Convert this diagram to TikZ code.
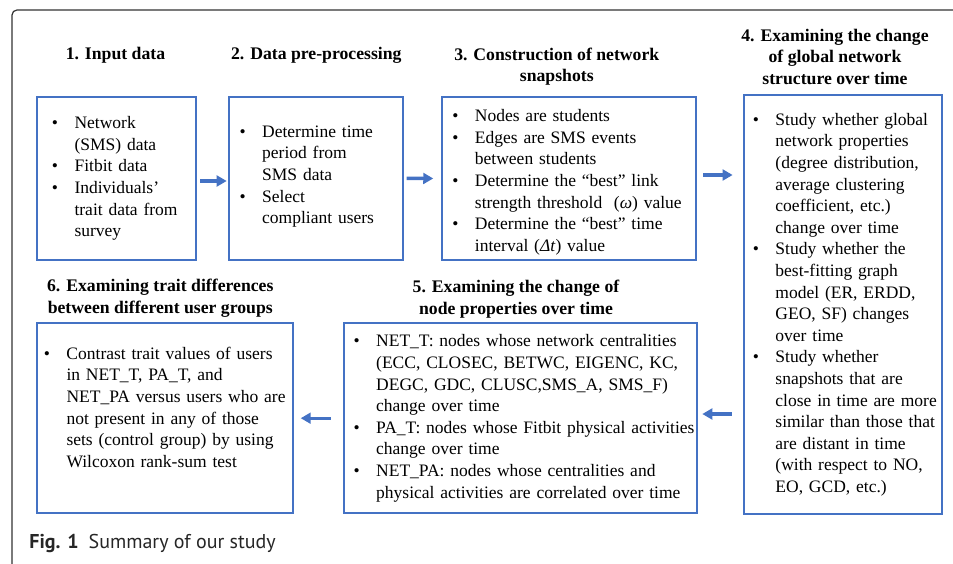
\documentclass[tikz,border=0pt]{standalone}
\usepackage{fontspec}
\setmainfont{Liberation Serif}
\newfontfamily\capfont{PT Sans}
\usetikzlibrary{positioning,arrows.meta}
\definecolor{boxblue}{RGB}{68,114,196}
\definecolor{framegray}{RGB}{50,50,50}
\newcommand{\bodytext}{\fontsize{8.75}{10.8}\selectfont}
\newcommand{\titletext}{\fontsize{8.85}{10.8}\selectfont\bfseries}
\newenvironment{blist}{\noindent\begin{tabular}{@{}p{11.3pt}@{}l@{}}}{\end{tabular}}
\newcommand{\gap}[1]{\noalign{\vskip#1}}

\begin{document}
\begin{tikzpicture}[
    x=0.5pt, y=0.5pt,
    stepbox/.style={
        draw=boxblue, line width=1pt, align=left, font=\bodytext,
        inner ysep=0pt, outer sep=0pt
      },
    titlenode/.style={
        align=center, font=\titletext, inner sep=0pt, outer sep=0pt
      },
    flow/.style={
        draw=boxblue, line width=1.7pt, -{Triangle[length=5pt,width=5.4pt]}
      },
  ]
  \useasboundingbox (0,0) rectangle (953,563);
  \draw[framegray, line width=0.6pt, rounded corners=2.5pt] (12,-20) |- (980,553);

  \node[stepbox, text width=64.45pt, inner xsep=7.6pt, minimum height=81.65pt] (in) at (116.4,384.6) {\begin{blist}
    \textbullet & Network\\
    & (SMS) data\\
    \textbullet & Fitbit data\\
    \textbullet & Individuals’\\
    & trait data from\\
    & survey
  \end{blist}};
  \node[stepbox, text width=76.1pt, inner xsep=5.45pt, minimum height=81.65pt] (pre) at (315.7,384.6) {\begin{blist}
    \textbullet & Determine time\\
    & period from\\
    & SMS data\\
    \textbullet & Select\\
    & compliant users\\ \gap{2.2pt}
  \end{blist}};
  \node[stepbox, text width=116.65pt, inner xsep=5.05pt, minimum height=81.5pt] (snap) at (569,384.5) {\begin{blist}
    \gap{3.7pt}
    \textbullet & Nodes are students\\
    \textbullet & Edges are SMS events\\
    & between students\\
    \textbullet & Determine the “best” link\\
    & strength threshold\ \ (\textit{ω}) value\\
    \textbullet & Determine the “best” time\\
    & interval (\textit{Δt}) value
  \end{blist}};
  \node[stepbox, text width=90.15pt, inner xsep=4.3pt, minimum height=209.5pt] (glob) at (843,258.5) {\begin{blist}
    \textbullet & Study whether global\\
    & network properties\\
    & (degree distribution,\\
    & average clustering\\
    & coefficient, etc.)\\
    & change over time\\
    \textbullet & Study whether the\\
    & best-fitting graph\\
    & model (ER, ERDD,\\
    & GEO, SF) changes\\
    & over time\\
    \textbullet & Study whether\\
    & snapshots that are\\
    & close in time are more\\
    & similar than those that\\
    & are distant in time\\
    & (with respect to NO,\\
    & EO, GCD, etc.)
  \end{blist}};
  \node[stepbox, text width=166.5pt, inner xsep=5.05pt, minimum height=94.85pt] (nodes) at (520.1,144.8) {\begin{blist}
    \textbullet & NET\_T: nodes whose network centralities\\
    & (ECC, CLOSEC, BETWC, EIGENC, KC,\\
    & DEGC, GDC, CLUSC,SMS\_A, SMS\_F)\\
    & change over time\\
    \textbullet & PA\_T: nodes whose Fitbit physical activities\\
    & change over time\\
    \textbullet & NET\_PA: nodes whose centralities and\\
    & physical activities are correlated over time
  \end{blist}};
  \node[stepbox, text width=120.7pt, inner xsep=3.7pt, minimum height=94.85pt] (trait) at (164.6,144.8) {\begin{blist}
    \textbullet & Contrast trait values of users\\
    & in NET\_T, PA\_T, and\\
    & NET\_PA versus users who are\\
    & not present in any of those\\
    & sets (control group) by using\\
    & Wilcoxon rank-sum test\\ \gap{9.2pt}
  \end{blist}};

  \node[titlenode, above=16.5pt of in, xshift=-0.45pt] (inlbl) {1. Input data};
  \node[titlenode, above=16.5pt of pre, xshift=0.3pt] (prelbl) {2. Data pre-processing};
  \node[titlenode, above=5.75pt of snap, xshift=-6.1pt] (snaplbl) {3. Construction of network\\snapshots};
  \node[titlenode, above=5.25pt of glob, xshift=-4pt] (globlbl) {4. Examining the change\\of global network\\structure over time};
  \node[titlenode, above=2.5pt of nodes, xshift=-2.05pt] (nodeslbl) {5. Examining the change of\\node properties over time};
  \node[titlenode, above=3.15pt of trait, xshift=-2.15pt] (traitlbl) {6. Examining trait differences\\between different user groups};

  \coordinate (a34) at ([yshift=1.75pt]snap.east);
  \coordinate (a45) at ([yshift=2.1pt]nodes.east);
  \draw[flow, shorten <=2pt, shorten >=1pt] ([yshift=-1.3pt]in.east) -- ([yshift=-1.3pt]pre.west);
  \draw[flow, shorten <=2pt, shorten >=4.5pt] (pre.east) -- (snap.west);
  \draw[flow, shorten <=3.75pt, shorten >=5.8pt] (a34) -- (a34 -| glob.west);
  \draw[flow, shorten <=6.3pt, shorten >=2.8pt] (a45 -| glob.west) -- (a45);
  \draw[flow, shorten <=6.4pt, shorten >=4pt] (nodes.west) -- (trait.east);

  \node[anchor=base west, inner sep=0pt, text=black!85,
    font=\capfont\fontsize{10}{12}\selectfont] (caption) at (29,14.5)
    {\textbf{Fig. 1}\hspace{5pt}Summary of our study};
\end{tikzpicture}
\end{document}
